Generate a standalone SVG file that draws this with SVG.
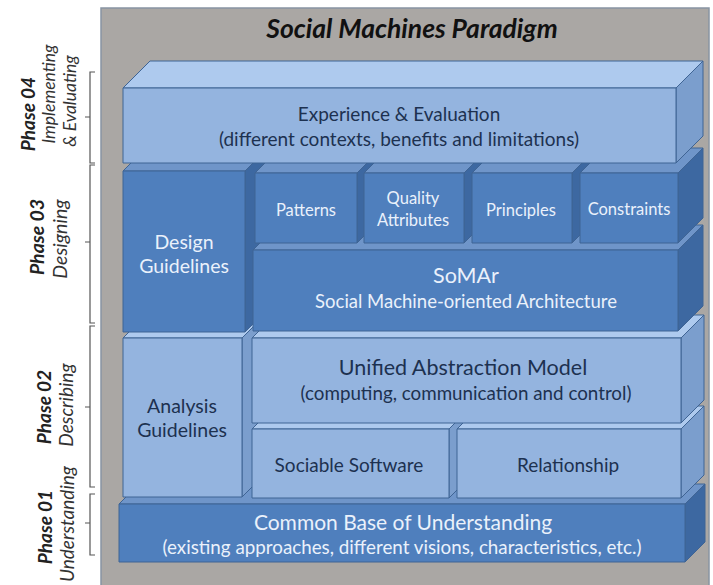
<svg xmlns="http://www.w3.org/2000/svg" width="713" height="585" viewBox="0 0 713 585">
<style>
text{font-family:Lato,"Liberation Sans",sans-serif;text-anchor:middle}
.f,.t,.s{stroke:#3f6494;stroke-width:1;stroke-linejoin:round}
.dk.f{fill:#4f7fbd}.dk.t{fill:#6f95c9}.dk.s{fill:#3d68a1}
.lt.f{fill:#94b4df}.lt.t{fill:#aecaee}.lt.s{fill:#7b9ecd}
.tw{fill:#eaf1fb}.tn{fill:#1d3150}
.ph{font-weight:bold;font-style:italic;fill:#222}
.pi{font-style:italic;fill:#333}
.br{fill:none;stroke:#555;stroke-width:1.2}
</style>
<rect id="frame" x="101" y="8" width="608" height="600" fill="#aaa7a4" stroke="#8894a2" stroke-width="1.5"/>
<text x="412" y="38" font-size="26.5" font-weight="bold" font-style="italic" fill="#111">Social Machines Paradigm</text>

<g id="common-base">
<polygon class="dk t" points="119,504 139,484 705,484 685,504"/>
<polygon class="dk s" points="685,504 705,484 705,542 685,562"/>
<rect class="dk f" x="119" y="504" width="566" height="58"/>
<text class="tw" x="403" y="530" font-size="21">Common Base of Understanding</text>
<text class="tw" x="402" y="554" font-size="18.8">(existing approaches, different visions, characteristics, etc.)</text>
</g>

<g id="analysis-guidelines">
<polygon class="lt t" points="123,338 146,315 265,315 242,338"/>
<polygon class="lt s" points="242,338 265,315 265,474 242,497"/>
<rect class="lt f" x="123" y="338" width="119" height="159"/>
<text class="tn" x="182" y="413" font-size="19.5">Analysis</text>
<text class="tn" x="182" y="437" font-size="19.5">Guidelines</text>
</g>
<g id="sociable-software">
<polygon class="lt t" points="252,429 275,406 472,406 449,429"/>
<polygon class="lt s" points="449,429 472,406 472,475 449,498"/>
<rect class="lt f" x="252" y="429" width="197" height="69"/>
<text class="tn" x="349" y="472" font-size="19">Sociable Software</text>
</g>
<g id="relationship">
<polygon class="lt t" points="457,429 480,406 704,406 681,429"/>
<polygon class="lt s" points="681,429 704,406 704,475 681,498"/>
<rect class="lt f" x="457" y="429" width="224" height="69"/>
<text class="tn" x="568" y="472" font-size="19">Relationship</text>
</g>
<g id="unified-abstraction-model">
<polygon class="lt t" points="252,338 275,315 704,315 681,338"/>
<polygon class="lt s" points="681,338 704,315 704,400 681,423"/>
<rect class="lt f" x="252" y="338" width="429" height="85"/>
<text class="tn" x="463" y="375" font-size="21.5">Unified Abstraction Model</text>
<text class="tn" x="466" y="399.5" font-size="18.8">(computing, communication and control)</text>
</g>

<g id="design-guidelines">
<polygon class="dk t" points="123,171 148,146 270,146 245,171"/>
<polygon class="dk s" points="245,171 270,146 270,307 245,332"/>
<rect class="dk f" x="123" y="171" width="122" height="161"/>
<text class="tw" x="184" y="249" font-size="19.5">Design</text>
<text class="tw" x="184" y="273" font-size="19.5">Guidelines</text>
</g>
<g id="somar">
<polygon class="dk t" points="253,250 278,225 703,225 678,250"/>
<polygon class="dk s" points="678,250 703,225 703,306 678,331"/>
<rect class="dk f" x="253" y="250" width="425" height="81"/>
<text class="tw" x="466" y="283" font-size="21.5">SoMAr</text>
<text class="tw" x="466" y="308" font-size="18.5">Social Machine-oriented Architecture</text>
</g>
<g id="patterns">
<polygon class="dk t" points="255,173 280,148 382,148 357,173"/>
<polygon class="dk s" points="357,173 382,148 382,218 357,243"/>
<rect class="dk f" x="255" y="173" width="102" height="70"/>
<text class="tw" x="306" y="216" font-size="16.5">Patterns</text>
</g>
<g id="quality-attributes">
<polygon class="dk t" points="364,173 389,148 489,148 464,173"/>
<polygon class="dk s" points="464,173 489,148 489,218 464,243"/>
<rect class="dk f" x="364" y="173" width="100" height="70"/>
<text class="tw" x="413" y="204" font-size="16.5">Quality</text>
<text class="tw" x="413" y="226" font-size="16.5">Attributes</text>
</g>
<g id="principles">
<polygon class="dk t" points="472,173 497,148 597,148 572,173"/>
<polygon class="dk s" points="572,173 597,148 597,218 572,243"/>
<rect class="dk f" x="472" y="173" width="100" height="70"/>
<text class="tw" x="521" y="216" font-size="16.5">Principles</text>
</g>
<g id="constraints">
<polygon class="dk t" points="580,173 605,148 703,148 678,173"/>
<polygon class="dk s" points="678,173 703,148 703,218 678,243"/>
<rect class="dk f" x="580" y="173" width="98" height="70"/>
<text class="tw" x="629" y="215" font-size="16.5">Constraints</text>
</g>

<g id="experience-evaluation">
<polygon class="lt t" points="123,88 150,61 703,61 676,88"/>
<polygon class="lt s" points="676,88 703,61 703,136 676,163"/>
<rect class="lt f" x="123" y="88" width="553" height="75"/>
<text class="tn" x="399" y="121" font-size="19">Experience &amp; Evaluation</text>
<text class="tn" x="399" y="146" font-size="19">(different contexts, benefits and limitations)</text>
</g>

<g id="connectors">
<path class="br" d="M95,72 H90 V163 H95 M90,117 H85"/>
<path class="br" d="M95,165 H90 V323 H95 M90,242 H85"/>
<path class="br" d="M95,326 H90 V487 H95 M90,407 H85"/>
<path class="br" d="M95,494 H90 V555 H95 M90,523 H85"/>
</g>

<g id="phase-04">
<text class="ph" transform="translate(35,114) rotate(-90)" font-size="19">Phase 04</text>
<text class="pi" transform="translate(55,94) rotate(-90)" font-size="17.5">Implementing</text>
<text class="pi" transform="translate(76,101) rotate(-90)" font-size="17.5">&amp; Evaluating</text>
</g>
<g id="phase-03">
<text class="ph" transform="translate(44,237) rotate(-90)" font-size="19.5">Phase 03</text>
<text class="pi" transform="translate(67,239) rotate(-90)" font-size="19.5">Designing</text>
</g>
<g id="phase-02">
<text class="ph" transform="translate(51,407) rotate(-90)" font-size="19">Phase 02</text>
<text class="pi" transform="translate(73,405) rotate(-90)" font-size="19">Describing</text>
</g>
<g id="phase-01">
<text class="ph" transform="translate(52,527) rotate(-90)" font-size="19">Phase 01</text>
<text class="pi" transform="translate(74,524) rotate(-90)" font-size="19">Understanding</text>
</g>
</svg>
